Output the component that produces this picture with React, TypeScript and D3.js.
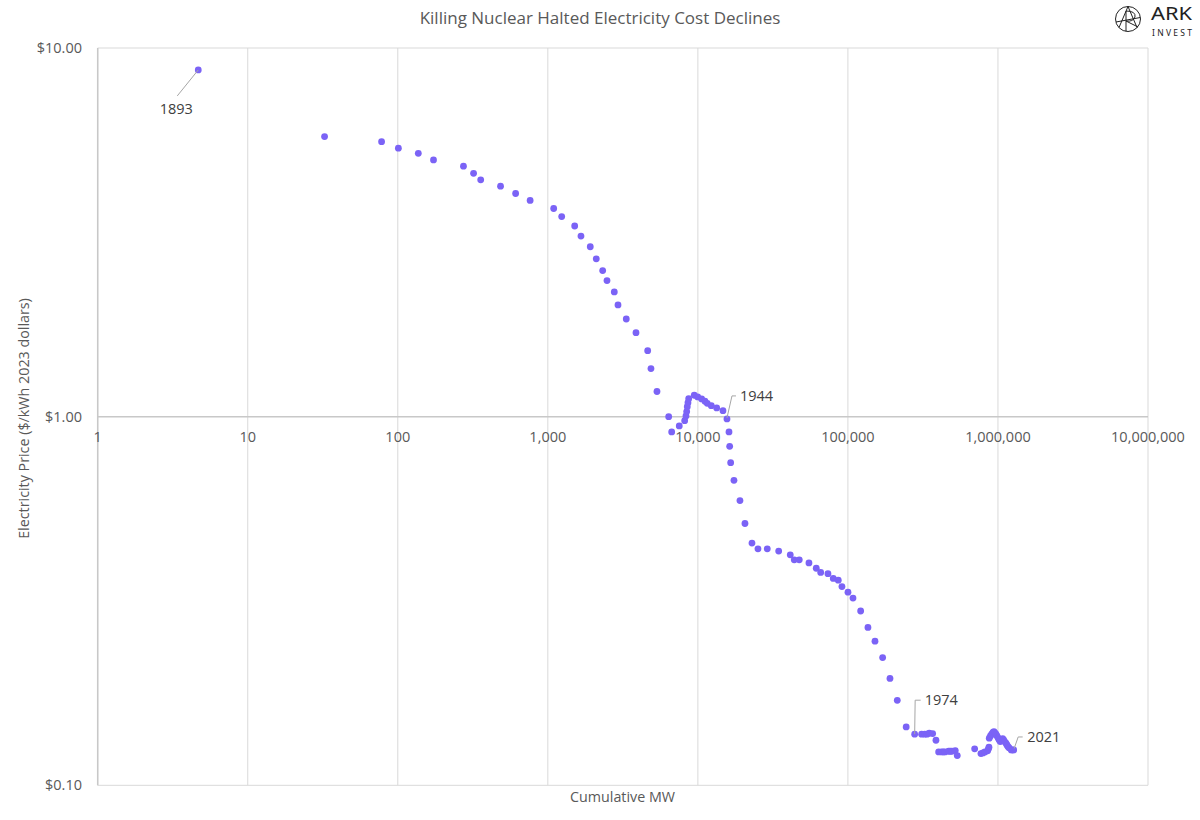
import React from "react";
import * as d3 from "d3";

// Cumulative installed capacity (MW) and electricity price ($/kWh, 2023 dollars)
const cumulativeMW: number[] = [
  4.68, 32.5, 78.0, 100.9, 137, 173, 274, 320, 357, 484, 610, 762, 1094, 1237, 1510, 1663,
  1918, 2103, 2320, 2479, 2773, 2935, 3333, 3869, 4629, 4869, 5339, 6389, 6690, 7516, 8166,
  8331, 8421, 8499, 8590, 8683, 9463, 9970, 10600, 11150, 11550, 12290, 13350, 14700, 15630,
  16120, 16290, 16540, 17400, 19080, 20600, 22940, 25150, 29010, 34560, 41280, 43900, 47400,
  55000, 61520, 65840, 73620, 79880, 86240, 91270, 100100, 108100, 121600, 136000, 151500,
  170400, 190700, 213300, 244500, 278500, 310000, 324700, 336300, 348500, 367100, 386200,
  402500, 421500, 432200, 443600, 469300, 481000, 493500, 519300, 535600, 699300, 770300,
  794300, 819100, 853800, 864400, 871000, 875000, 891300, 907800, 926100, 940300, 955000,
  969800, 985000, 1004700, 1020000, 1036000, 1055000, 1075000, 1091000, 1108000, 1131000,
  1148000, 1166000, 1184000, 1226000, 1249000, 1273000,
];
const pricePerKWh: number[] = [
  8.72, 5.75, 5.57, 5.35, 5.18, 4.97, 4.78, 4.57, 4.39, 4.22, 4.03, 3.86, 3.67, 3.49, 3.29, 3.09,
  2.89, 2.68, 2.49, 2.34, 2.18, 2.01, 1.84, 1.69, 1.51, 1.35, 1.17, 1.0, 0.909, 0.944, 0.975,
  1.004, 1.032, 1.064, 1.091, 1.119, 1.143, 1.131, 1.117, 1.101, 1.087, 1.071, 1.056, 1.038, 0.986,
  0.909, 0.831, 0.75, 0.672, 0.592, 0.513, 0.454, 0.438, 0.438, 0.432, 0.422, 0.409, 0.409,
  0.401, 0.388, 0.378, 0.375, 0.364, 0.36, 0.346, 0.334, 0.322, 0.297, 0.268, 0.246,
  0.222, 0.195, 0.17, 0.144, 0.1376, 0.1376, 0.1376, 0.1376, 0.1384, 0.1381, 0.1325,
  0.1232, 0.1232, 0.1232, 0.1232, 0.1237, 0.1237, 0.1237, 0.1242, 0.1204, 0.1256, 0.1219,
  0.1224, 0.1232, 0.124, 0.1256, 0.1269, 0.1342, 0.1361, 0.1376, 0.1391, 0.1398, 0.1387,
  0.1376, 0.1361, 0.1342, 0.1328, 0.1314, 0.1328, 0.1339, 0.1328, 0.1314, 0.1301,
  0.1287, 0.1274, 0.1265, 0.1247, 0.1247, 0.1247,
];

const xTickValues: number[] = [1, 10, 100, 1000, 10000, 100000, 1000000, 10000000];
const yTickValues: number[] = [10, 1, 0.1];

const labelYears: string[] = ["1893", "1944", "1974", "2021"];
const labelIndex: number[] = [0, 44, 74, cumulativeMW.length - 1];

const TITLE = "Killing Nuclear Halted Electricity Cost Declines";
const X_TITLE = "Cumulative MW";
const Y_TITLE = "Electricity Price ($/kWh 2023 dollars)";

const W = 1200;
const H = 820;
const FONT = "'Open Sans', 'Noto Sans', sans-serif";
const TEXT = "#595959";
const GRID = "#d9d9d9";
const DOT = "#7b63f6";

export default function App() {
  const x = d3.scaleLog().domain([1, 1e7]).range([97.7, 1148]);
  const y = d3.scaleLog().domain([0.1, 10]).range([785.3, 48]);
  const fmtX = d3.format(",");
  const fmtY = (v: number) => "$" + v.toFixed(2);

  // leader line geometry (relative offsets from the point)
  const leaders = [
    { pts: [[0, 0], [-21, 26]], tx: -22, ty: 39, anchor: "middle" },
    { pts: [[0, -1], [5, -23], [9, -23]], tx: 13, ty: -23, anchor: "start" },
    { pts: [[0, 0], [0.5, -34], [6, -34]], tx: 10, ty: -34, anchor: "start" },
    { pts: [[0.5, -1.5], [4.5, -13], [9, -13]], tx: 13.5, ty: -13, anchor: "start" },
  ];

  return (
    <svg
      width={W}
      height={H}
      style={{ position: "absolute", left: 0, top: 0, background: "#fff" }}
      fontFamily={FONT}
    >
      <rect x={0} y={0} width={W} height={H} fill="#fff" />
      {/* title */}
      <text x={600} y={24} textAnchor="middle" fontSize={17} fill={TEXT}>
        {TITLE}
      </text>

      {/* logo */}
      <g transform="translate(1128,19)" stroke="#222" strokeWidth={1} fill="none">
        <circle r={12.5} />
        <path d="M -9,8.5 L 0,-12.5 L 9,8.5" />
        <path d="M -2,-8 L -2,12.4" />
        <path d="M -2,-8 Q 8,-8 7,-2 Q 5,3 -2,2 L 10,8" />
        <path d="M -12,3 L 12.3,-1.5" />
      </g>
      <text x={1151} y={20} fontSize={18} fill="#222" fontFamily="'Noto Sans', sans-serif" textLength={41} lengthAdjust="spacingAndGlyphs">
        ARK
      </text>
      <text x={1152} y={36} fontSize={8.5} fill="#222" fontFamily="'Noto Sans', sans-serif" textLength={40} lengthAdjust="spacing">
        INVEST
      </text>

      {/* vertical grid */}
      {xTickValues.map((v) => (
        <line key={"vx" + v} x1={x(v)} x2={x(v)} y1={y(10)} y2={y(0.1)} stroke={GRID} strokeWidth={1} />
      ))}
      {/* horizontal grid */}
      {yTickValues.map((v) => (
        <line key={"hy" + v} x1={x(1)} x2={x(1e7)} y1={y(v)} y2={y(v)} stroke={v === 1 ? "#c8c8c8" : GRID} strokeWidth={v === 1 ? 1.5 : 1} />
      ))}
      <line x1={x(1)} x2={x(1)} y1={y(10)} y2={y(0.1)} stroke="#c8c8c8" strokeWidth={1.5} />

      {/* y tick labels */}
      {yTickValues.map((v) => (
        <text key={"yl" + v} x={82} y={y(v)} dy="0.35em" textAnchor="end" fontSize={14.5} fill={TEXT}>
          {fmtY(v)}
        </text>
      ))}
      {/* x tick labels */}
      {xTickValues.map((v) => (
        <text key={"xl" + v} x={x(v)} y={y(1) + 20} dy="0.35em" textAnchor="middle" fontSize={14.5} fill={TEXT}>
          {fmtX(v)}
        </text>
      ))}

      {/* axis titles */}
      <text x={622.5} y={802} textAnchor="middle" fontSize={14.3} fill={TEXT}>
        {X_TITLE}
      </text>
      <text
        transform={`translate(29,${418.5}) rotate(-90)`}
        textAnchor="middle"
        fontSize={14.3}
        fill={TEXT}
      >
        {Y_TITLE}
      </text>

      {/* points */}
      {cumulativeMW.map((m, i) => (
        <circle key={"p" + i} cx={x(m)} cy={y(pricePerKWh[i])} r={3.4} fill={DOT} />
      ))}

      {/* annotations */}
      {labelIndex.map((idx, k) => {
        const px = x(cumulativeMW[idx]);
        const py = y(pricePerKWh[idx]);
        const L = leaders[k];
        const d = "M" + L.pts.map((p) => `${px + p[0]},${py + p[1]}`).join(" L");
        return (
          <g key={"a" + k}>
            <path d={d} fill="none" stroke="#a6a6a6" strokeWidth={1} />
            <text
              x={px + L.tx}
              y={py + L.ty}
              dy="0.35em"
              textAnchor={L.anchor as any}
              fontSize={14.5}
              fill="#404040"
            >
              {labelYears[k]}
            </text>
          </g>
        );
      })}
    </svg>
  );
}
